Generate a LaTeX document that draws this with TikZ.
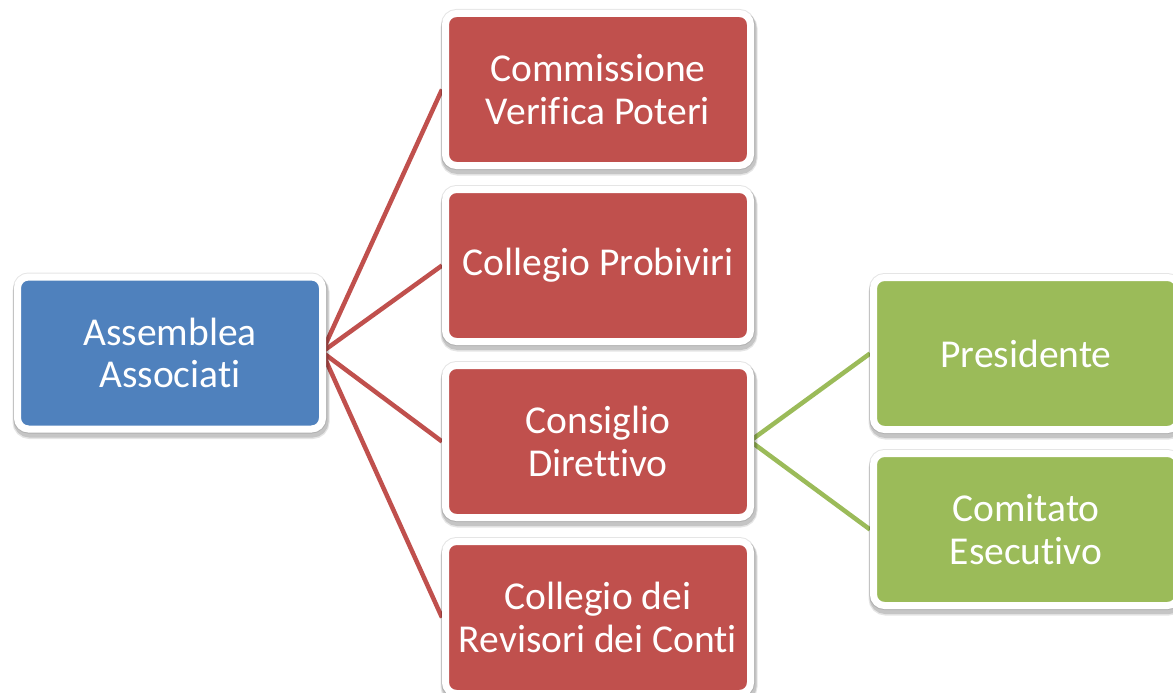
\documentclass[tikz,border=0pt]{standalone}
\usepackage{fontspec}
\setmainfont{Carlito}[Ligatures={NoCommon}]
\usetikzlibrary{backgrounds}
\definecolor{blueC}{HTML}{4F81BD}
\definecolor{redC}{HTML}{C0504D}
\definecolor{greenC}{HTML}{9BBB59}
\tikzset{
  orgbox/.style={rectangle, rounded corners=11pt, draw=white, line width=7pt,
    minimum width=305pt, minimum height=152pt, inner sep=0pt, align=center,
    text=white, font=\fontsize{39.5}{42.5}\selectfont,
    preaction={draw=black, draw opacity=0.10, line width=9pt},
    preaction={draw=black, draw opacity=0.14, line width=10pt, transform canvas={xshift=1pt, yshift=-3.5pt}},
    preaction={draw=black, draw opacity=0.10, line width=12pt, transform canvas={xshift=1pt, yshift=-4pt}}},
  redlink/.style={draw=redC, line width=4.5pt},
  greenlink/.style={draw=greenC, line width=4.5pt}
}
\begin{document}
\begin{tikzpicture}[x=1pt,y=-1pt]
\useasboundingbox (0,0) rectangle (1173,693);
\node[orgbox, fill=blueC] (assemblea) at (170,353) {Assemblea\\Associati};
\node[orgbox, fill=redC] (commissione) at (598,89.5) {Commissione\\Verifica Poteri};
\node[orgbox, fill=redC] (probiviri) at (598,265.5) {Collegio Probiviri};
\node[orgbox, fill=redC] (consiglio) at (598,441.5) {Consiglio\\Direttivo};
\node[orgbox, fill=redC] (revisori) at (598,617.5) {Collegio dei\\Revisori dei Conti};
\node[orgbox, fill=greenC] (presidente) at (1026,353.5) {Presidente};
\node[orgbox, fill=greenC] (comitato) at (1026,529.5) {Comitato\\Esecutivo};
\coordinate (hubA) at (322,352);
\coordinate (hubB) at (750,441);
\begin{scope}[on background layer]
\draw[redlink] (hubA) -- (commissione.west);
\draw[redlink] (hubA) -- (probiviri.west);
\draw[redlink] (hubA) -- (consiglio.west);
\draw[redlink] (hubA) -- (revisori.west);
\draw[greenlink] (hubB) -- (presidente.west);
\draw[greenlink] (hubB) -- (comitato.west);
\end{scope}
\end{tikzpicture}
\end{document}
